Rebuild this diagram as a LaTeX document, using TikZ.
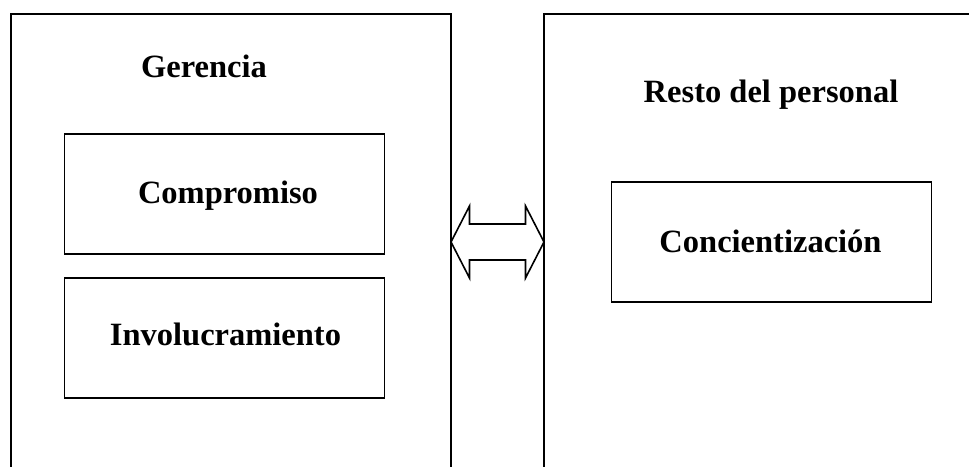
\documentclass[tikz,border=0pt]{standalone}
\usepackage{fontspec}
\setmainfont{Liberation Serif}
\begin{document}
\begin{tikzpicture}[x=1pt,y=-1pt,
  frame/.style={line width=1.9pt,line join=miter},
  itembox/.style={draw,line width=1.9pt,minimum width=320pt,minimum height=120pt,inner sep=0pt},
  label/.style={font=\fontsize{32.5}{38}\selectfont\bfseries,anchor=base,inner sep=0pt}]
  \useasboundingbox (0,0) rectangle (969,466);
  % open-bottomed panels
  \coordinate (lbl) at (11,470);  \coordinate (ltl) at (11,14);
  \coordinate (ltr) at (451,14);  \coordinate (lbr) at (451,470);
  \coordinate (rbl) at (544,470); \coordinate (rtl) at (544,14);
  \coordinate (rtr) at (972,14);
  \draw[frame] (lbl) -- (ltl) -- (ltr) -- (lbr);
  \draw[frame] (rbl) -- (rtl) -- (rtr);
  % panel titles
  \node[label] (ger) at (204,77) {Gerencia};
  \node[label] (resto) at (771,102) {Resto del personal};
  % inner boxes
  \node[itembox] (comp) at (224.5,194) {};
  \node[itembox] (invo) at (224.5,338) {};
  \node[itembox] (conc) at (771.5,242) {};
  \node[label] (tcomp) at (228,203) {Compromiso};
  \node[label] (tinvo) at (225.5,345.5) {Involucramiento};
  \node[label] (tconc) at (770.5,252.5) {Concientización};
  % double arrow between the panels
  \coordinate (tipL) at (451,242);
  \coordinate (tipR) at (544,242);
  \draw[line width=1.6pt,line join=miter]
    (tipL) -- (469.5,206) -- (469.5,224) -- (525.5,224) -- (525.5,206) -- (tipR)
    -- (525.5,278) -- (525.5,260) -- (469.5,260) -- (469.5,278) -- cycle;
\end{tikzpicture}
\end{document}
